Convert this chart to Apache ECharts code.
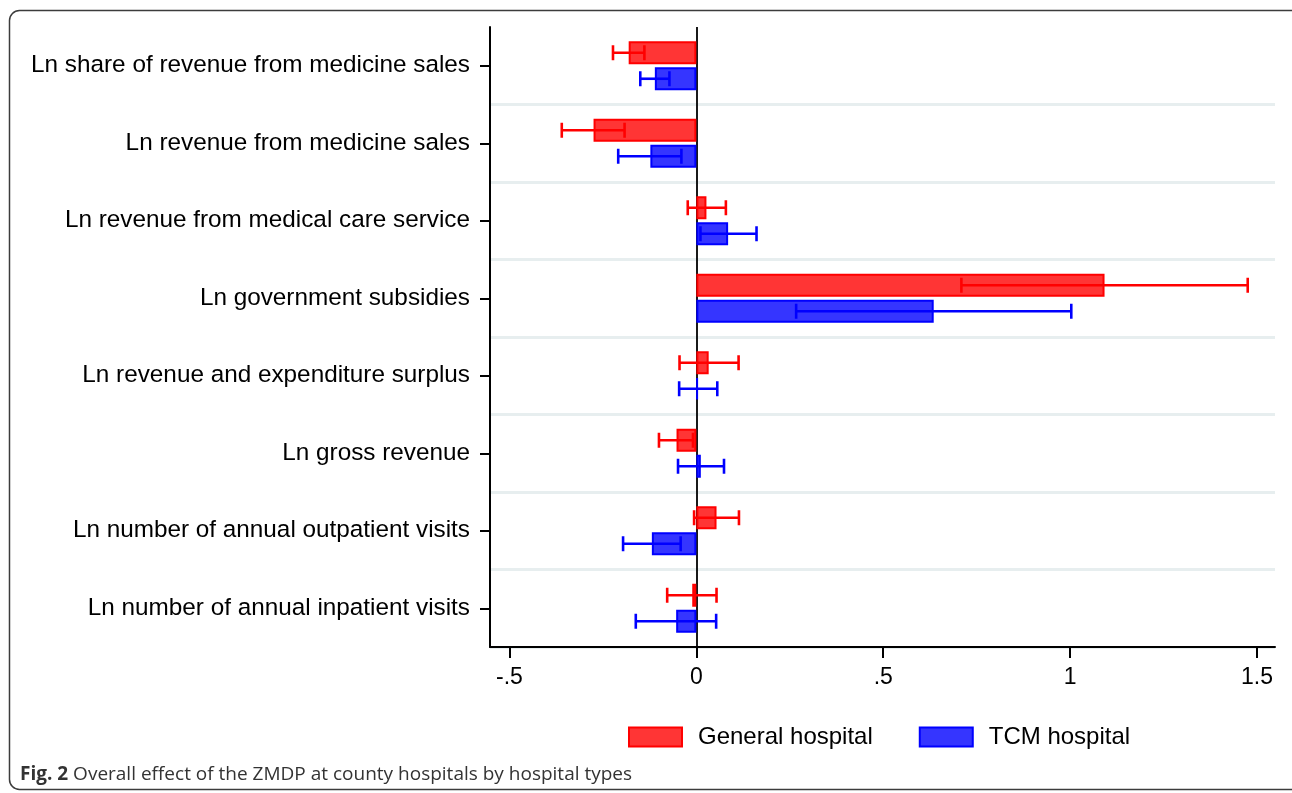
<!DOCTYPE html>
<html>
<head>
<meta charset="utf-8">
<script src="https://cdn.jsdelivr.net/npm/echarts@6/dist/echarts.min.js"></script>
<style>
html,body{margin:0;padding:0;background:#fff;}
#chart{width:1292px;height:793px;}
</style>
</head>
<body>
<div id="chart"></div>
<script>
const categories = [
  'Ln share of revenue from medicine sales',
  'Ln revenue from medicine sales',
  'Ln revenue from medical care service',
  'Ln government subsidies',
  'Ln revenue and expenditure surplus',
  'Ln gross revenue',
  'Ln number of annual outpatient visits',
  'Ln number of annual inpatient visits'
];
const seriesNames = ['General hospital', 'TCM hospital'];
const generalEffect = [-0.181, -0.275, 0.027, 1.092, 0.033, -0.053, 0.054, -0.011];
const generalLow    = [-0.223, -0.360, -0.023, 0.709, -0.045, -0.100, -0.006, -0.078];
const generalHigh   = [-0.139, -0.192, 0.079, 1.475, 0.113, -0.009, 0.114, 0.054];
const tcmEffect     = [-0.111, -0.123, 0.085, 0.635, 0.004, 0.012, -0.119, -0.054];
const tcmLow        = [-0.150, -0.209, 0.011, 0.267, -0.046, -0.049, -0.196, -0.162];
const tcmHigh       = [-0.072, -0.040, 0.161, 1.003, 0.056, 0.074, -0.042, 0.053];
const xTicks = [-0.5, 0, 0.5, 1, 1.5];
const xTickLabels = ['-.5', '0', '.5', '1', '1.5'];
const caption = 'Overall effect of the ZMDP at county hospitals by hospital types';

const RED = '#ff0000', RED_FILL = '#ff3535';
const BLUE = '#0000ff', BLUE_FILL = '#3535ff';

function errData(lo, hi) { return lo.map((l, i) => [i, l, hi[i]]); }
function errRender(offset, color) {
  return function (params, api) {
    const i = api.value(0);
    const a = api.coord([api.value(1), i]);
    const b = api.coord([api.value(2), i]);
    const y = a[1] + offset;
    const cap = 7.5;
    const style = { stroke: color, lineWidth: 2.6 };
    return { type: 'group', children: [
      { type: 'line', shape: { x1: a[0], y1: y, x2: b[0], y2: y }, style: style },
      { type: 'line', shape: { x1: a[0], y1: y - cap, x2: a[0], y2: y + cap }, style: style },
      { type: 'line', shape: { x1: b[0], y1: y - cap, x2: b[0], y2: y + cap }, style: style }
    ]};
  };
}

const chart = echarts.init(document.getElementById('chart'), null, { renderer: 'canvas' });
chart.setOption({
  animation: false,
  backgroundColor: '#fff',
  textStyle: { fontFamily: 'Liberation Sans, Arial, sans-serif' },
  grid: { left: 490, right: 17, top: 27, bottom: 146, containLabel: false },
  xAxis: {
    type: 'value', min: -0.552, max: 1.548,
    axisLine: { show: true, onZero: false, lineStyle: { color: '#000', width: 2 } },
    axisTick: { show: true, length: 11, lineStyle: { color: '#000', width: 2 }, customValues: xTicks },
    axisLabel: { color: '#000', fontSize: 23, margin: 19, customValues: xTicks,
      formatter: v => { const k = xTicks.findIndex(t => Math.abs(t - v) < 1e-9); return k >= 0 ? xTickLabels[k] : ''; } },
    splitLine: { show: false }
  },
  yAxis: {
    type: 'category', data: categories, inverse: true,
    axisLine: { show: true, onZero: false, lineStyle: { color: '#000', width: 2 } },
    axisTick: { show: true, alignWithLabel: true, length: 10, lineStyle: { color: '#000', width: 2 } },
    axisLabel: { color: '#000', fontSize: 24.3, margin: 20, padding: [4, 0, 0, 0] },
    splitLine: { show: true, interval: (idx) => idx !== 0, lineStyle: { color: '#e7eeef', width: 3 } }
  },
  legend: {
    left: 623, top: 720, itemWidth: 53, itemHeight: 19, itemGap: 46,
    icon: 'rect',
    textStyle: { fontSize: 24, color: '#000', padding: [0, 0, 0, 11] },
    data: seriesNames
  },
  series: [
    { name: seriesNames[0], type: 'bar', data: generalEffect, barWidth: 23, barGap: '13%',
      itemStyle: { color: RED_FILL, borderColor: RED, borderWidth: 2 }, z: 3,
      markLine: { silent: true, symbol: 'none', label: { show: false }, z: 1,
        lineStyle: { color: '#000', width: 1.8, type: 'solid' }, data: [{ xAxis: 0 }] } },
    { name: seriesNames[1], type: 'bar', data: tcmEffect, barWidth: 23, barGap: '13%',
      itemStyle: { color: BLUE_FILL, borderColor: BLUE, borderWidth: 2 }, z: 3 },
    { name: 'ciG', type: 'custom', data: errData(generalLow, generalHigh), renderItem: errRender(-13, RED), z: 5,
      encode: { x: [1, 2], y: 0 } },
    { name: 'ciT', type: 'custom', data: errData(tcmLow, tcmHigh), renderItem: errRender(13, BLUE), z: 5,
      encode: { x: [1, 2], y: 0 } }
  ],
  graphic: [
    { type: 'rect', shape: { x: 9.5, y: 10.5, width: 1300, height: 779, r: 10 },
      style: { fill: 'none', stroke: '#3c3c3c', lineWidth: 1.5 }, z: 100, silent: true },
    { type: 'text', left: 20, top: 765, z: 100,
      style: { text: '{b|Fig. 2} ' + caption, fill: '#333', font: '19px "Open Sans"',
        rich: { b: { fontWeight: 'bold', fontSize: 19, fontFamily: 'Open Sans', fill: '#333' } } } }
  ]
});
</script>
</body>
</html>
